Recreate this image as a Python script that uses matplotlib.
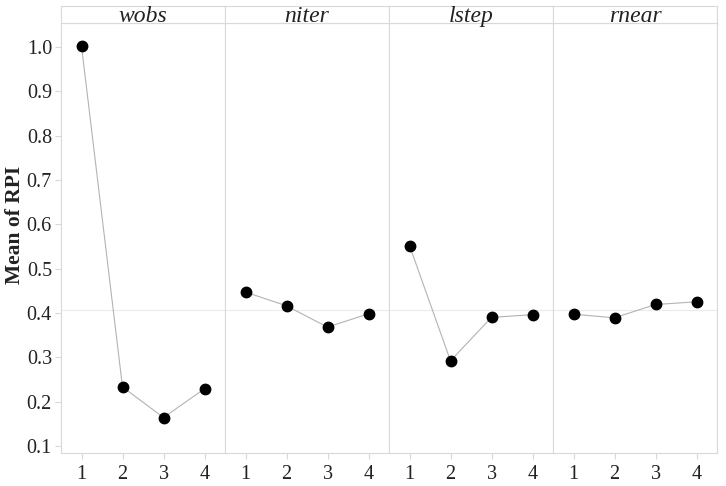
import matplotlib.pyplot as plt
import numpy as np

plt.rcParams['font.family'] = ['Liberation Serif', 'DejaVu Serif']

factors = ['wobs', 'niter', 'lstep', 'rnear']
levels = [1, 2, 3, 4]
wobs = [1.002, 0.233, 0.164, 0.229]
niter = [0.447, 0.416, 0.368, 0.398]
lstep = [0.552, 0.292, 0.390, 0.396]
rnear = [0.397, 0.389, 0.419, 0.425]
means = [wobs, niter, lstep, rnear]
grand_mean = np.mean(wobs)

W, H = 726, 486
fig = plt.figure(figsize=(W / 100, H / 100), dpi=100)

frame = '#d9d9d9'
left, right = 61, 717
top_data, top_head, bottom = 23, 6, 453
pw = (right - left) / 4

for i, (name, vals) in enumerate(zip(factors, means)):
    x0 = left + i * pw
    ax = fig.add_axes([x0 / W, (H - bottom) / H, pw / W, (bottom - top_data) / H])
    ax.axhline(grand_mean, color='#ebebeb', lw=0.8, zorder=0)
    ax.plot(levels, vals, color='#b3b3b3', lw=0.8, zorder=1)
    ax.plot(levels, vals, 'o', color='black', ms=7.5, zorder=2)
    ax.set_xlim(0.5, 4.5)
    ax.set_ylim(0.084, 1.054)
    ax.set_xticks(levels)
    ax.set_yticks(np.arange(0.1, 1.01, 0.1))
    for s in ax.spines.values():
        s.set_color(frame)
        s.set_linewidth(0.8)
    ax.tick_params(colors=frame, labelcolor='#222222', labelsize=14.5, length=4.5, width=0.8, pad=2)
    ax.tick_params(axis='x', pad=4)
    if i == 0:
        ax.set_yticklabels([f'{v:.1f}' for v in np.arange(0.1, 1.01, 0.1)])
    else:
        ax.tick_params(axis='y', left=False, labelleft=False)

    hax = fig.add_axes([x0 / W, (H - top_data) / H, pw / W, (top_data - top_head) / H])
    hax.set_xticks([])
    hax.set_yticks([])
    for s in hax.spines.values():
        s.set_color(frame)
        s.set_linewidth(0.8)
    hax.text(0.5, 0.4, name, ha='center', va='center', fontsize=17,
             style='italic', color='#222222', transform=hax.transAxes)

fig.text(15 / W, 1 - 225 / H, 'Mean of RPI', rotation=90, ha='center', va='center',
         fontsize=15.5, fontweight='bold', color='#222222')

fig.savefig('out.png', dpi=100)
